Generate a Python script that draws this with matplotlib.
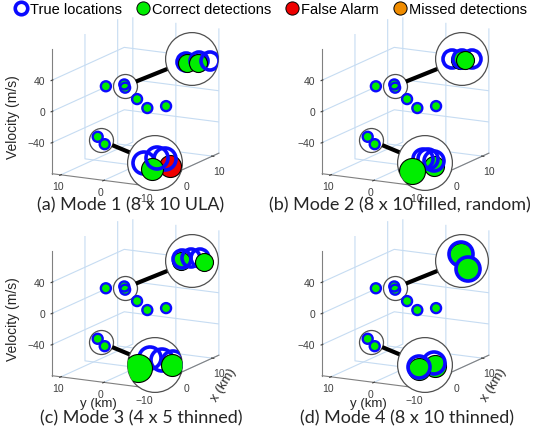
import numpy as np
import matplotlib
matplotlib.use('Agg')
import matplotlib.pyplot as plt
from matplotlib.lines import Line2D
from matplotlib.patches import Circle
from mpl_toolkits.mplot3d import proj3d

plt.rcParams['font.family'] = ['Liberation Sans', 'DejaVu Sans']

W, H = 536, 439
fig = plt.figure(figsize=(W / 100, H / 100), dpi=100)

BLUE = '#0a0aff'
GREEN = '#00ee00'
RED = '#ee0000'
ORANGE = '#f08c00'
GRID = '#c6dcf2'
EDGE = '#505050'

# targets (x km, y km, velocity m/s) - same scene for every mode
tgt_x = [0.6, 3.2, 3.2, 5.8, 6.7, 9.8, -1.9, -1.2]
tgt_y = [7.6, 5.3, 5.1, 4.3, 2.6, 0.6, 7.6, 6.5]
tgt_v = [15, 14, 10, -9, -21, -23, -45, -55]
upper_pair = [1, 2]
lower_pair = [6, 7]

captions = ['(a) Mode 1 (8 x 10 ULA)', '(b) Mode 2 (8 x 10 filled, random)',
            '(c) Mode 3 (4 x 5 thinned)', '(d) Mode 4 (8 x 10 thinned)']

# magnified views of the two close pairs (offsets in px inside the lens)
# kind: t = true location, d = detection, D = near detection, f = false alarm
top_dx = [[-6, -5, 7, 6, 18], [-10, 10, -2, 0, 3], [-11, -10, -1, 8, 12], [-1, -1, 6, 6]]
top_dy = [[-3, -4, -2, -4, -2], [0, 0, -1, 0, -1], [0, 2, 3, 3, -1], [6, 7, -8, -8]]
top_kind = [['t', 'd', 't', 'd', 't'], ['t', 't', 'd', 't', 'd'],
            ['d', 't', 't', 't', 'd'], ['d', 't', 'd', 't']]
bot_dx = [[15, 10, -11, -3, 2], [9, -2, 9, 3, -13], [-5, 7, 18, 17, -17], [10, 9, -6, -6]]
bot_dy = [[-3, 4, 0, -6, 5], [-3, 4, 2, 4, -8], [7, 5, 3, 0, -3], [-1, 2, -4, -2]]
bot_kind = [['f', 't', 't', 'd', 't'], ['d', 't', 't', 't', 'D'],
            ['t', 't', 't', 'd', 'D'], ['d', 't', 'd', 't']]

# panel offsets (px) and lens geometry relative to panel (a)
offsets = [(0, 0), (270, 0), (0, 202), (270, 202)]
top_lens = (192, 60, 27)
bot_lens = (155, 164, 28)
caption_pos = [(131, 205), (400, 205), (141, 418), (407, 418)]


def s_px(d):
    # marker area in pt^2 for a diameter given in px
    return (d * 0.72) ** 2


def setup_axes(ox, oy):
    S = 190
    ax = fig.add_axes([(38 + ox) / W, 1 - (9.6 + oy + S) / H, S / W, S / H],
                      projection='3d')
    ax.set_proj_type('ortho')
    ax.view_init(elev=14, azim=-152)
    ax.set_box_aspect((1.43, 1, 1.2), zoom=1.16)
    ax.set_xlim(-10, 12)
    ax.set_ylim(-10, 12)
    ax.set_zlim(-80, 80)
    ax.set_xticks([0, 10])
    ax.set_yticks([-10, 0, 10])
    ax.set_zticks([-40, 0, 40])
    ax.computed_zorder = False
    for axis in (ax.xaxis, ax.yaxis, ax.zaxis):
        axis.set_pane_color((1, 1, 1, 0))
        axis.pane.set_edgecolor(GRID)
        axis._axinfo['grid'].update(color=GRID, linewidth=0.8)
        axis.line.set_color('#808080')
        axis.line.set_linewidth(0.8)
    ax.tick_params(labelsize=7.5, colors='#404040')
    ax.xaxis.set_tick_params(pad=-3)
    ax.yaxis.set_tick_params(pad=-5)
    ax.zaxis.set_tick_params(pad=-5)
    for lab in ax.zaxis.get_majorticklabels():
        lab.set_verticalalignment('center')
        lab.set_horizontalalignment('right')
    return ax


def draw_zoom(cx, cy, r, dx, dy, kind, d):
    iax = fig.add_axes([(cx - r) / W, 1 - (cy + r) / H, 2 * r / W, 2 * r / H])
    iax.set_xlim(-r, r)
    iax.set_ylim(-r, r)
    iax.set_zorder(5)
    iax.axis('off')
    lens = Circle((0, 0), r - 0.6, facecolor='white', edgecolor=EDGE, lw=0.9)
    iax.add_patch(lens)
    for x, y, k in zip(dx, dy, kind):
        if k == 't':
            sc = iax.scatter(x, y, s=s_px(d), facecolors='none', edgecolors=BLUE, linewidths=2.6)
        elif k == 'f':
            sc = iax.scatter(x, y, s=s_px(d), c=RED, edgecolors='black', linewidths=0.8)
        elif k == 'D':
            sc = iax.scatter(x, y, s=s_px(d + 6), c=GREEN, edgecolors='black', linewidths=0.8)
        else:
            sc = iax.scatter(x, y, s=s_px(d), c=GREEN, edgecolors='black', linewidths=0.8)
        sc.set_clip_path(lens)
    return iax


axes = []
for i, (ox, oy) in enumerate(offsets):
    ax = setup_axes(ox, oy)
    for pair in (upper_pair, lower_pair):
        ax.scatter(np.mean([tgt_x[j] for j in pair]), np.mean([tgt_y[j] for j in pair]),
                   np.mean([tgt_v[j] for j in pair]), s=s_px(24), facecolors='white',
                   edgecolors=EDGE, linewidths=0.9, depthshade=False)
    ax.scatter(tgt_x, tgt_y, tgt_v, s=s_px(9.5), c=GREEN, edgecolors='none', depthshade=False)
    ax.scatter(tgt_x, tgt_y, tgt_v, s=s_px(10), facecolors='none', edgecolors=BLUE,
               linewidths=1.7, depthshade=False)
    axes.append(ax)

    fig.text(caption_pos[i][0] / W, 1 - caption_pos[i][1] / H, captions[i],
             ha='center', va='center', fontsize=13, family='Lato', color='#262626')
    if ox == 0:
        fig.text(13 / W, 1 - (117 + oy) / H, 'Velocity (m/s)', rotation=90,
                 ha='center', va='center', fontsize=10, color='#262626')
    if oy > 0:
        fig.text((98 + ox) / W, 1 - 404 / H, 'y (km)', ha='center', va='center',
                 fontsize=9.5, color='#262626')
        fig.text((224 + ox) / W, 1 - 385 / H, 'x (km)', rotation=58, ha='center',
                 va='center', fontsize=9.5, color='#262626')

fig.canvas.draw()

# connect each small lens to its magnified view
for i, ax in enumerate(axes):
    ox, oy = offsets[i]
    for pair, (lx, ly, lr), dx, dy, kind, d in (
            (upper_pair, top_lens, top_dx[i], top_dy[i], top_kind[i], 24 if i == 3 else 18),
            (lower_pair, bot_lens, bot_dx[i], bot_dy[i], bot_kind[i], 22 if i != 1 else 20)):
        px, py, _ = proj3d.proj_transform(np.mean([tgt_x[j] for j in pair]),
                                          np.mean([tgt_y[j] for j in pair]),
                                          np.mean([tgt_v[j] for j in pair]), ax.M)
        sx, sy = ax.transData.transform((px, py))
        cx, cy = lx + ox, ly + oy
        tx, ty = cx, H - cy
        v = np.array([tx - sx, ty - sy])
        v /= np.hypot(*v)
        a = np.array([sx, sy]) + v * 12
        b = np.array([tx, ty]) - v * (lr - 2)
        fig.add_artist(Line2D([a[0] / W, b[0] / W], [a[1] / H, b[1] / H],
                              transform=fig.transFigure, color='black', lw=3, zorder=3,
                              solid_capstyle='butt'))
        draw_zoom(cx, cy, lr, dx, dy, kind, d)

handles = [
    Line2D([], [], ls='none', marker='o', ms=9, mfc='white', mec=BLUE, mew=2.6,
           label='True locations'),
    Line2D([], [], ls='none', marker='o', ms=9.5, mfc=GREEN, mec='black', mew=0.7,
           label='Correct detections'),
    Line2D([], [], ls='none', marker='o', ms=9.5, mfc=RED, mec='black', mew=0.7,
           label='False Alarm'),
    Line2D([], [], ls='none', marker='o', ms=9.5, mfc=ORANGE, mec='black', mew=0.7,
           label='Missed detections'),
]
fig.legend(handles=handles, loc='upper center', bbox_to_anchor=(0.504, 0.999), ncol=4,
           frameon=False, fontsize=10.5, handletextpad=0.1, columnspacing=0.95,
           handlelength=1.0, borderaxespad=0.0, borderpad=0.15)

fig.savefig('out.png', dpi=100)
